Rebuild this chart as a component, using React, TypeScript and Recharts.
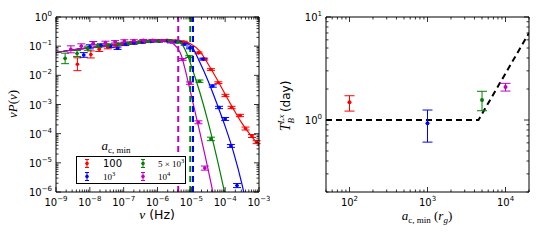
import React from 'react';
import { ComposedChart, Line, Scatter, ErrorBar, XAxis, YAxis, ReferenceLine } from 'recharts';

const SANS = '"DejaVu Sans", sans-serif';
const SERIF = '"Liberation Serif", "DejaVu Serif", serif';

const RED = '#ff0000';
const BLUE = '#0000ff';
const GREEN = '#008000';
const MAGENTA = '#bf00bf';

// ---- left panel: power spectra ----
const RED_NU = [4.3e-9, 1.07e-8, 1.9e-8, 3.4e-8, 6.0e-8, 1.07e-7, 1.9e-7, 3.4e-7, 6.0e-7, 1.07e-6, 1.9e-6, 3.4e-6, 6.0e-6, 1.62e-5, 2.4e-5, 3.8e-5, 6.3e-5, 1.02e-4, 1.55e-4, 2.75e-4, 4.0e-4, 6.2e-4, 8.5e-4];
const RED_P = [0.024, 0.052, 0.079, 0.093, 0.105, 0.117, 0.129, 0.138, 0.148, 0.155, 0.158, 0.151, 0.138, 0.059, 0.036, 0.0158, 0.0056, 0.00204, 7.9e-4, 4.2e-4, 1.5e-4, 8.3e-5, 5.1e-5];
const RED_ERR = [0.22, 0.12, 0.08, 0.06, 0.05, 0.05, 0.04, 0.04, 0.03, 0.03, 0.03, 0.03, 0.03, 0.03, 0.03, 0.03, 0.03, 0.04, 0.04, 0.04, 0.05, 0.05, 0.05];

const BLUE_NU = [6.6e-9, 1.0e-8, 2.1e-8, 4.0e-8, 6.6e-8, 1.12e-7, 2.0e-7, 3.55e-7, 6.3e-7, 1.12e-6, 2.0e-6, 3.55e-6, 6.3e-6, 9.1e-6, 2.24e-5, 4.3e-5, 6.6e-5, 1.0e-4, 1.48e-4, 2.24e-4];
const BLUE_P = [0.05, 0.095, 0.107, 0.1, 0.085, 0.117, 0.129, 0.138, 0.145, 0.148, 0.151, 0.141, 0.117, 0.087, 0.036, 0.0043, 7.9e-4, 3.2e-4, 3.8e-5, 1.66e-6];
const BLUE_ERR = [0.08, 0.07, 0.05, 0.05, 0.04, 0.04, 0.04, 0.03, 0.03, 0.03, 0.03, 0.03, 0.03, 0.03, 0.03, 0.04, 0.04, 0.05, 0.05, 0.07];

const GREEN_NU = [1.86e-9, 4.2e-9, 8.7e-9, 1.74e-8, 3.5e-8, 6.9e-8, 1.38e-7, 2.75e-7, 5.5e-7, 1.1e-6, 2.2e-6, 4.0e-6, 8.7e-6, 1.74e-5, 3.8e-5];
const GREEN_P = [0.038, 0.056, 0.085, 0.1, 0.107, 0.117, 0.126, 0.135, 0.145, 0.151, 0.155, 0.138, 0.044, 0.0063, 6.6e-5];
const GREEN_ERR = [0.18, 0.1, 0.07, 0.05, 0.05, 0.04, 0.04, 0.03, 0.03, 0.03, 0.03, 0.03, 0.03, 0.04, 0.06];

const MAG_NU = [2.75e-9, 5.6e-9, 1.26e-8, 2.9e-8, 5.6e-8, 1.05e-7, 2.0e-7, 3.8e-7, 7.1e-7, 1.32e-6, 2.5e-6, 5.5e-6, 9.1e-6, 1.62e-5, 2.5e-5];
const MAG_P = [0.078, 0.1, 0.126, 0.132, 0.141, 0.151, 0.155, 0.158, 0.158, 0.155, 0.138, 0.035, 0.0054, 2.45e-4, 6.6e-6];
const MAG_ERR = [0.12, 0.08, 0.06, 0.05, 0.04, 0.04, 0.03, 0.03, 0.03, 0.03, 0.03, 0.03, 0.04, 0.05, 0.07];

// model curves (shared low-frequency part + individual cut-offs)
const LOW_NU = [1e-9, 3e-9, 1e-8, 3e-8, 1e-7, 3e-7, 1e-6];
const LOW_P = [0.06, 0.074, 0.089, 0.105, 0.12, 0.138, 0.151];
const RED_FIT_NU = [2e-6, 3.16e-6, 5.62e-6, 1e-5, 1.78e-5, 3.16e-5, 5.62e-5, 1e-4, 1.78e-4, 3.16e-4, 5.62e-4, 1e-3];
const RED_FIT_P = [0.157, 0.158, 0.148, 0.117, 0.068, 0.024, 0.0076, 0.00224, 6.8e-4, 2.24e-4, 8.9e-5, 4.0e-5];
const BLUE_FIT_NU = [2e-6, 3.16e-6, 5.62e-6, 1e-5, 1.78e-5, 3.16e-5, 5.62e-5, 1e-4, 1.78e-4, 3.16e-4, 3.7e-4];
const BLUE_FIT_P = [0.157, 0.155, 0.138, 0.1, 0.028, 0.0063, 0.00112, 1.78e-4, 2.24e-5, 1.78e-6, 7.9e-7];
const GREEN_FIT_NU = [2e-6, 3.16e-6, 4.47e-6, 5.62e-6, 7.94e-6, 1e-5, 1.78e-5, 3.16e-5, 5.62e-5, 1e-4];
const GREEN_FIT_P = [0.157, 0.151, 0.138, 0.105, 0.0447, 0.0209, 0.00263, 2.4e-4, 1.58e-5, 7.9e-7];
const MAG_FIT_NU = [1.78e-6, 2.51e-6, 3.16e-6, 3.98e-6, 5.01e-6, 6.31e-6, 7.94e-6, 1e-5, 1.26e-5, 1.78e-5, 2.51e-5, 3.16e-5, 3.98e-5, 4.47e-5];
const MAG_FIT_P = [0.153, 0.138, 0.112, 0.083, 0.05, 0.019, 0.0063, 0.002, 6.3e-4, 1.12e-4, 1.9e-5, 5.6e-6, 1.58e-6, 7.9e-7];

const CUTOFF_NU = [4.1e-6, 9.3e-6, 1.12e-5];
const CUTOFF_COLORS = [MAGENTA, GREEN, BLUE];

const BIN_DEX = 0.05; // half width of frequency bins

const NU_MAJOR = [1e-9, 1e-8, 1e-7, 1e-6, 1e-5, 1e-4, 1e-3];
const P_MAJOR = [1e-6, 1e-5, 1e-4, 1e-3, 1e-2, 1e-1, 1];

// ---- right panel: break time scale ----
const A_MIN = [100, 1000, 5000, 10000];
const T_BREAK = [1.49, 0.93, 1.56, 2.09];
const T_LO = [1.22, 0.61, 1.23, 1.91];
const T_HI = [1.72, 1.25, 1.9, 2.27];
const A_COLORS = [RED, BLUE, GREEN, MAGENTA];
const MODEL_A = [50, 4500, 20000];
const MODEL_T = [1, 1, 7];

const A_MAJOR = [100, 1000, 10000];
const T_MAJOR = [1, 10];

const minorsOf = (majors: number[], lo: number, hi: number) => {
  const out: number[] = [];
  majors.concat([majors[0] / 10]).forEach((m) => {
    for (let k = 1; k < 10; k++) {
      const v = m * k;
      if (v >= lo * 0.999 && v <= hi * 1.001) out.push(v);
    }
  });
  return out.sort((a, b) => a - b);
};

const pts = (nu: number[], p: number[], err: number[]) =>
  nu.map((x, i) => ({
    x,
    y: p[i],
    ey: [p[i] - p[i] / 10 ** err[i], p[i] * 10 ** err[i] - p[i]],
    ex: [x - x / 10 ** BIN_DEX, x * 10 ** BIN_DEX - x],
  }));

const curve = (nu: number[], p: number[]) => nu.map((x, i) => ({ x, y: p[i] }));

const SERIES = [
  { name: '100', color: RED, points: pts(RED_NU, RED_P, RED_ERR), fit: curve([...LOW_NU, ...RED_FIT_NU], [...LOW_P, ...RED_FIT_P]) },
  { name: '1e3', color: BLUE, points: pts(BLUE_NU, BLUE_P, BLUE_ERR), fit: curve([...LOW_NU, ...BLUE_FIT_NU], [...LOW_P, ...BLUE_FIT_P]) },
  { name: '5e3', color: GREEN, points: pts(GREEN_NU, GREEN_P, GREEN_ERR), fit: curve([...LOW_NU, ...GREEN_FIT_NU], [...LOW_P, ...GREEN_FIT_P]) },
  { name: '1e4', color: MAGENTA, points: pts(MAG_NU, MAG_P, MAG_ERR), fit: curve([...LOW_NU, ...MAG_FIT_NU], [...LOW_P, ...MAG_FIT_P]) },
];

type Side = 'bottom' | 'top' | 'left' | 'right';

const expText = (v: number) => {
  const e = Math.round(Math.log10(v));
  return e < 0 ? `\u2212${-e}` : `${e}`;
};

const makeTick = (side: Side, majors: number[], labelled: boolean) => (props: any) => {
  const { x, y, payload } = props;
  const v = payload.value;
  const isMajor = majors.some((m) => Math.abs(v / m - 1) < 1e-6);
  const len = isMajor ? 5 : 2.5;
  const dx = side === 'left' ? len : side === 'right' ? -len : 0;
  const dy = side === 'bottom' ? -len : side === 'top' ? len : 0;
  return (
    <g>
      <line x1={x} y1={y} x2={x + dx} y2={y + dy} stroke="#000" strokeWidth={0.8} />
      {labelled && isMajor && side === 'bottom' && (
        <text x={x} y={y + 14} textAnchor="middle" fontFamily={SANS} fontSize={10} fill="#000">
          10<tspan dy={-5} fontSize={7}>{expText(v)}</tspan>
        </text>
      )}
      {labelled && isMajor && side === 'left' && (
        <text x={x - 4} y={y + 4} textAnchor="end" fontFamily={SANS} fontSize={10} fill="#000">
          10<tspan dy={-5} fontSize={7}>{expText(v)}</tspan>
        </text>
      )}
    </g>
  );
};

const W = 270;
const H = 240;
// axes are 1px thick, so the plot area is 56..259 x 17..192
const MARGIN = { top: 16, right: 10, bottom: 47, left: 55 };
const AXIS = { stroke: '#000', strokeWidth: 1 };

const Dot = (color: string, r: number) => (p: any) => <circle cx={p.cx} cy={p.cy} r={r} fill={color} />;

function SpectrumPanel() {
  const xTicks = minorsOf(NU_MAJOR, 1e-9, 1e-3);
  const yTicks = minorsOf(P_MAJOR, 1e-6, 1);
  const common = { type: 'number' as const, scale: 'log' as const, allowDataOverflow: true, interval: 0, tickSize: 0, tickMargin: 0, axisLine: AXIS };
  return (
    <ComposedChart width={W} height={H} margin={MARGIN}>
      <XAxis {...common} xAxisId="b" dataKey="x" domain={[1e-9, 1e-3]} ticks={xTicks} height={1} tick={makeTick('bottom', NU_MAJOR, true)} />
      <XAxis {...common} xAxisId="t" orientation="top" dataKey="x" domain={[1e-9, 1e-3]} ticks={xTicks} height={1} tick={makeTick('top', NU_MAJOR, false)} />
      <YAxis {...common} yAxisId="l" dataKey="y" domain={[1e-6, 1]} ticks={yTicks} width={1} tick={makeTick('left', P_MAJOR, true)} />
      <YAxis {...common} yAxisId="r" orientation="right" dataKey="y" domain={[1e-6, 1]} ticks={yTicks} width={1} tick={makeTick('right', P_MAJOR, false)} />
      {SERIES.map((s) => (
        <Scatter key={'p' + s.name} xAxisId="b" yAxisId="l" data={s.points} dataKey="y" isAnimationActive={false} shape={Dot(s.color, 1.8)}>
          <ErrorBar dataKey="ey" direction="y" width={4} stroke={s.color} strokeWidth={1} />
          <ErrorBar dataKey="ex" direction="x" width={0} stroke={s.color} strokeWidth={1} />
        </Scatter>
      ))}
      {SERIES.map((s) => (
        <Line key={'l' + s.name} xAxisId="b" yAxisId="l" data={s.fit} dataKey="y" type="monotone" stroke={s.color} strokeWidth={1.2} dot={false} isAnimationActive={false} />
      ))}
      {CUTOFF_NU.map((nu, i) => (
        <ReferenceLine key={'c' + i} xAxisId="b" yAxisId="l" x={nu} stroke={CUTOFF_COLORS[i]} strokeWidth={2} strokeDasharray="6 4" />
      ))}
    </ComposedChart>
  );
}

function BreakPanel() {
  const xTicks = minorsOf(A_MAJOR, 50, 20000);
  const yTicks = minorsOf(T_MAJOR, 0.2, 10);
  const common = { type: 'number' as const, scale: 'log' as const, allowDataOverflow: true, interval: 0, tickSize: 0, tickMargin: 0, axisLine: AXIS };
  const model = MODEL_A.map((x, i) => ({ x, y: MODEL_T[i] }));
  return (
    <ComposedChart width={W} height={H} margin={MARGIN}>
      <XAxis {...common} xAxisId="b" dataKey="x" domain={[50, 20000]} ticks={xTicks} height={1} tick={makeTick('bottom', A_MAJOR, true)} />
      <XAxis {...common} xAxisId="t" orientation="top" dataKey="x" domain={[50, 20000]} ticks={xTicks} height={1} tick={makeTick('top', A_MAJOR, false)} />
      <YAxis {...common} yAxisId="l" dataKey="y" domain={[0.2, 10]} ticks={yTicks} width={1} tick={makeTick('left', T_MAJOR, true)} />
      <YAxis {...common} yAxisId="r" orientation="right" dataKey="y" domain={[0.2, 10]} ticks={yTicks} width={1} tick={makeTick('right', T_MAJOR, false)} />
      <Line xAxisId="b" yAxisId="l" data={model} dataKey="y" type="linear" stroke="#000" strokeWidth={2} strokeDasharray="6 4" dot={false} isAnimationActive={false} />
      {A_MIN.map((a, i) => (
        <Scatter key={a} xAxisId="b" yAxisId="l" data={[{ x: a, y: T_BREAK[i], ey: [T_BREAK[i] - T_LO[i], T_HI[i] - T_BREAK[i]] }]} dataKey="y" isAnimationActive={false} shape={Dot(A_COLORS[i], 2)}>
          <ErrorBar dataKey="ey" direction="y" width={5} stroke={A_COLORS[i]} strokeWidth={1} />
        </Scatter>
      ))}
    </ComposedChart>
  );
}

const LegendMark = ({ x, y, color }: { x: number; y: number; color: string }) => (
  <g stroke={color} strokeWidth={1}>
    <line x1={x} y1={y - 4} x2={x} y2={y + 4} />
    <line x1={x - 2} y1={y - 4} x2={x + 2} y2={y - 4} />
    <line x1={x - 2} y1={y + 4} x2={x + 2} y2={y + 4} />
    <circle cx={x} cy={y} r={1.8} fill={color} stroke="none" />
  </g>
);

function Overlay() {
  return (
    <svg width={540} height={240} style={{ position: 'absolute', left: 0, top: 0, pointerEvents: 'none' }}>
      {/* left panel labels */}
      <text transform="translate(17,104) rotate(-90)" textAnchor="middle" fontFamily={SERIF} fontSize={13} fill="#000">
        <tspan fontStyle="italic">ν</tspan><tspan fontStyle="italic">P</tspan>(<tspan fontStyle="italic">ν</tspan>)
      </text>
      <text x={157} y={219} textAnchor="middle" fontSize={12.5} fill="#000">
        <tspan fontFamily={SERIF} fontStyle="italic" fontSize={13.5}>ν</tspan>
        <tspan fontFamily={SANS}> (Hz)</tspan>
      </text>

      {/* legend */}
      <text x={116} y={150} textAnchor="middle" fontFamily={SERIF} fontSize={13} fill="#000">
        <tspan fontStyle="italic">a</tspan><tspan fontSize={9} dy={3}>c, min</tspan>
      </text>
      <rect x={76.5} y={156.5} width={109} height={27} fill="#fff" stroke="#000" strokeWidth={1} />
      <LegendMark x={87} y={163.5} color={RED} />
      <LegendMark x={87} y={176.5} color={BLUE} />
      <LegendMark x={143} y={163.5} color={GREEN} />
      <LegendMark x={143} y={176.5} color={MAGENTA} />
      <text x={103} y={167} fontFamily={SANS} fontSize={10} fill="#000">100</text>
      <text x={103} y={180} fontFamily={SERIF} fontSize={9} fill="#000">
        10<tspan dy={-4} fontSize={6.5}>3</tspan>
      </text>
      <text x={158} y={167} fontFamily={SERIF} fontSize={9} fill="#000">
        5 × 10<tspan dy={-4} fontSize={6.5}>3</tspan>
      </text>
      <text x={158} y={180} fontFamily={SERIF} fontSize={9} fill="#000">
        10<tspan dy={-4} fontSize={6.5}>4</tspan>
      </text>

      {/* right panel labels */}
      <text transform="translate(290,106) rotate(-90)" textAnchor="middle" fill="#000" fontSize={12}>
        <tspan fontFamily={SERIF} fontStyle="italic" fontSize={14}>T</tspan>
        <tspan fontFamily={SERIF} fontStyle="italic" fontSize={9} dy={-6}>Lx</tspan>
        <tspan fontFamily={SERIF} fontStyle="italic" fontSize={9} dx={-9} dy={10}>B</tspan>
        <tspan fontFamily={SANS} dx={6} dy={-4}>(day)</tspan>
      </text>
      <text x={427} y={220} textAnchor="middle" fontFamily={SERIF} fontSize={13} fill="#000">
        <tspan fontStyle="italic">a</tspan>
        <tspan fontSize={9} dy={3}>c, min</tspan>
        <tspan dy={-3}> (</tspan>
        <tspan fontStyle="italic">r</tspan>
        <tspan fontStyle="italic" fontSize={9} dy={3}>g</tspan>
        <tspan dy={-3}>)</tspan>
      </text>
    </svg>
  );
}

export default function App() {
  return (
    <div style={{ position: 'absolute', left: 0, top: 0, width: 540, height: 240, background: '#fff' }}>
      <div style={{ position: 'absolute', left: 0, top: 0 }}>
        <SpectrumPanel />
      </div>
      <div style={{ position: 'absolute', left: 270, top: 0 }}>
        <BreakPanel />
      </div>
      <Overlay />
    </div>
  );
}
